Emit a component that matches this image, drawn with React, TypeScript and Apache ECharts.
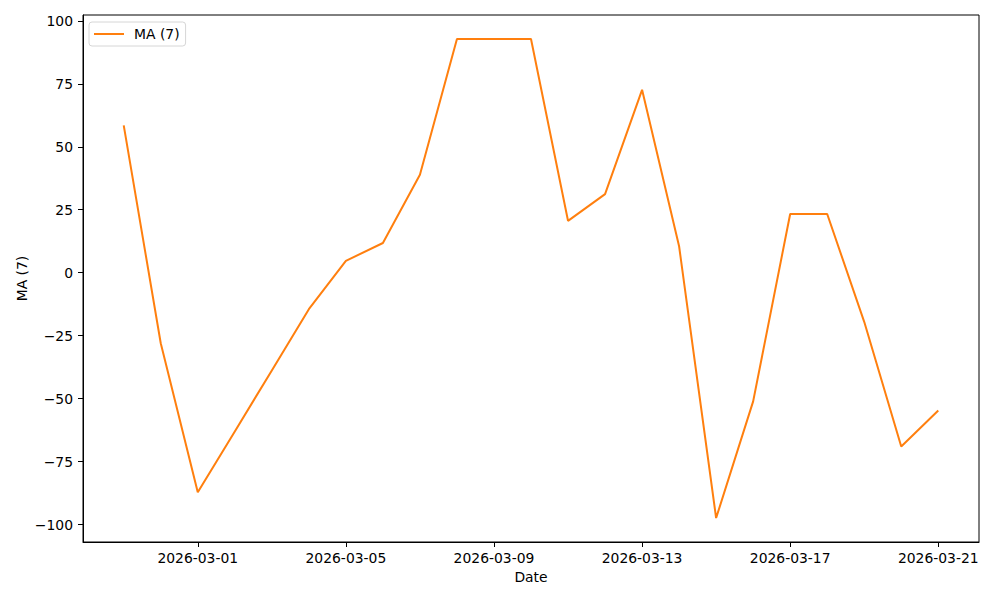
import React, { useEffect, useRef } from "react";
import * as echarts from "echarts";

const dates = [
  "2026-02-27", "2026-02-28", "2026-03-01", "2026-03-02", "2026-03-03", "2026-03-04",
  "2026-03-05", "2026-03-06", "2026-03-07", "2026-03-08", "2026-03-09", "2026-03-10",
  "2026-03-11", "2026-03-12", "2026-03-13", "2026-03-14", "2026-03-15", "2026-03-16",
  "2026-03-17", "2026-03-18", "2026-03-19", "2026-03-20", "2026-03-21",
];
const maValues = [
  58.5, -28.0, -87.2, -63.0, -38.8, -14.5,
  4.7, 11.8, 38.9, 92.8, 92.8, 92.8,
  20.6, 31.2, 72.6, 10.5, -97.4, -51.1,
  23.3, 23.3, -19.5, -69.0, -54.7,
];
const xTickDates = ["2026-03-01", "2026-03-05", "2026-03-09", "2026-03-13", "2026-03-17", "2026-03-21"];
const yTicks = [-100, -75, -50, -25, 0, 25, 50, 75, 100];
const seriesName = "MA (7)";
const xName = "Date";
const yName = "MA (7)";

const FONT = "DejaVu Sans";

function fmtDate(v: number): string {
  const d = new Date(v);
  const mm = String(d.getUTCMonth() + 1).padStart(2, "0");
  const dd = String(d.getUTCDate()).padStart(2, "0");
  return `${d.getUTCFullYear()}-${mm}-${dd}`;
}

export default function App() {
  const ref = useRef<HTMLDivElement>(null);
  useEffect(() => {
    if (!ref.current) return;
    const chart = echarts.init(ref.current, undefined, { renderer: "svg" });
    const ts = dates.map((d) => Date.parse(d));
    const t0 = ts[0];
    const tN = ts[ts.length - 1];
    const span = tN - t0;
    const vMin = Math.min(...maValues);
    const vMax = Math.max(...maValues);
    const vSpan = vMax - vMin;
    const data = ts.map((t, i) => [t, maValues[i]]);
    chart.setOption({
      animation: false,
      backgroundColor: "#ffffff",
      textStyle: { fontFamily: FONT },
      grid: {
        left: 83,
        right: 21,
        top: 15,
        bottom: 58,
        show: true,
        borderColor: "#000",
        borderWidth: 1,
        backgroundColor: "transparent",
      },
      legend: {
        left: 89,
        top: 22,
        data: [seriesName],
        icon: "rect",
        itemWidth: 30,
        itemHeight: 2,
        padding: [5, 6, 5, 5],
        borderColor: "#d6d6d6",
        borderWidth: 1,
        borderRadius: 3,
        backgroundColor: "rgba(255,255,255,0.8)",
        textStyle: { fontFamily: FONT, fontSize: 13.9, color: "#000", padding: [0, 0, 0, 5] },
      },
      xAxis: {
        type: "value",
        min: t0 - span * 0.05,
        max: tN + span * 0.05,
        name: xName,
        nameLocation: "middle",
        nameGap: 28,
        nameTextStyle: { fontFamily: FONT, fontSize: 13.9, color: "#000" },
        axisLine: { show: true, onZero: false, lineStyle: { color: "#000", width: 1 } },
        axisTick: {
          show: true,
          length: 5,
          lineStyle: { color: "#000" },
          customValues: xTickDates.map((d) => Date.parse(d)),
        },
        axisLabel: {
          fontFamily: FONT,
          fontSize: 13.9,
          color: "#000",
          margin: 9,
          customValues: xTickDates.map((d) => Date.parse(d)),
          formatter: (v: number) => fmtDate(v),
        },
        splitLine: { show: false },
      },
      yAxis: {
        type: "value",
        min: vMin - vSpan * 0.05,
        max: vMax + vSpan * 0.05,
        name: yName,
        nameLocation: "middle",
        nameGap: 61,
        nameMoveOverlap: false,
        nameRotate: 90,
        nameTextStyle: { fontFamily: FONT, fontSize: 13.9, color: "#000", verticalAlign: "middle" },
        axisLine: { show: true, onZero: false, lineStyle: { color: "#000", width: 1 } },
        axisTick: { show: true, length: 5, lineStyle: { color: "#000" }, customValues: yTicks },
        axisLabel: {
          fontFamily: FONT,
          fontSize: 13.9,
          color: "#000",
          margin: 10,
          customValues: yTicks,
          formatter: (v: number) => String(v).replace("-", "\u2212"),
        },
        splitLine: { show: false },
      },
      series: [
        {
          name: seriesName,
          type: "line",
          data,
          symbol: "none",
          showSymbol: false,
          lineStyle: { color: "#ff7f0e", width: 2 },
          itemStyle: { color: "#ff7f0e" },
        },
      ],
    });
    return () => chart.dispose();
  }, []);
  return (
    <div
      ref={ref}
      style={{ position: "absolute", left: 0, top: 0, width: 1000, height: 600, background: "#fff" }}
    />
  );
}
